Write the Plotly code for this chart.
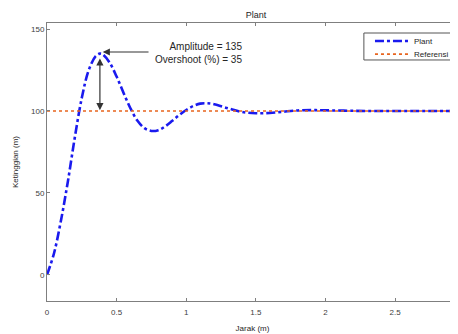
import plotly.graph_objects as go

# Data
jarak = [0, 0.05, 0.1, 0.15, 0.2, 0.25, 0.3, 0.35, 0.38, 0.4, 0.45, 0.5, 0.55, 0.6,
         0.65, 0.7, 0.75, 0.8, 0.85, 0.9, 0.95, 1.0, 1.05, 1.1, 1.15, 1.2, 1.3, 1.4,
         1.5, 1.6, 1.7, 1.8, 1.9, 2.0, 2.2, 2.4, 2.6, 2.8, 3.0]
plant = [0, 13, 33, 57, 84, 108, 125, 133.5, 135, 134.5, 129.5, 121, 111, 101.5,
         94, 89.5, 87.8, 88.3, 90.7, 94, 97.5, 100.6, 103, 104.5, 104.7, 104.1, 101.6, 99.4,
         98.6, 98.8, 99.6, 100.3, 100.5, 100.4, 100.1, 99.95, 100, 100, 100]
ref_x = [0, 3]
ref_y = [100, 100]
x_ticks = [0, 0.5, 1, 1.5, 2, 2.5]
x_ticktext = ["0", "0.5", "1", "1.5", "2", "2.5"]
y_ticks = [0, 50, 100, 150]
series_names = ["Plant", "Referensi"]
peak_t = 0.38
peak_v = 135
overshoot = 35

FONT = "Liberation Sans, Arial, sans-serif"
AX = "#7f7f7f"
PLANT_LINE = dict(color="#1a1aee", width=2.6, dash="dashdot")
REF_LINE = dict(color="#e8641e", width=1.6, dash="dot")

# the page body has an 8px margin; size the figure so the visible frame matches
W, H = 450, 326

fig = go.Figure()
fig.add_trace(go.Scatter(x=jarak, y=plant, mode="lines", name=series_names[0],
                         line=dict(**PLANT_LINE, shape="spline"), showlegend=False))
fig.add_trace(go.Scatter(x=ref_x, y=ref_y, mode="lines", name=series_names[1],
                         line=REF_LINE, showlegend=False))

# arrows
fig.add_annotation(x=peak_t + 0.02, y=136, ax=0.74, ay=136, xref="x", yref="y",
                   axref="x", ayref="y", showarrow=True, arrowhead=2, arrowsize=1.2,
                   arrowwidth=1.2, arrowcolor="#333333", text="")
fig.add_annotation(x=peak_t, y=100.5, ax=peak_t, ay=133, xref="x", yref="y",
                   axref="x", ayref="y", showarrow=True, arrowhead=2, arrowsize=1.2,
                   arrowwidth=1.2, arrowcolor="#333333", arrowside="end+start", text="")
fig.add_annotation(x=1.414, y=135.5, xref="x", yref="y", showarrow=False,
                   xanchor="right", yanchor="middle", align="right",
                   text=f"Amplitude = {peak_v}<br>Overshoot (%) = {overshoot}",
                   font=dict(family=FONT, size=10, color="#262626"))

# compact MATLAB-style legend box (paper coordinates)
LEG_X0, LEG_X1, LEG_Y0, LEG_Y1 = 0.771, 0.985, 0.867, 0.964
ROW_Y = [0.935, 0.888]
SAMPLE_X0, SAMPLE_X1, TEXT_X = 0.798, 0.881, 0.888
fig.add_shape(type="rect", xref="paper", yref="paper", x0=LEG_X0, x1=LEG_X1,
              y0=LEG_Y0, y1=LEG_Y1, line=dict(color="#555555", width=1),
              fillcolor="white", layer="above")
for name, style, ry in zip(series_names, [PLANT_LINE, REF_LINE], ROW_Y):
    fig.add_shape(type="line", xref="paper", yref="paper", x0=SAMPLE_X0, x1=SAMPLE_X1,
                  y0=ry, y1=ry, line=style, layer="above")
    fig.add_annotation(x=TEXT_X, y=ry, xref="paper", yref="paper", showarrow=False,
                       xanchor="left", yanchor="middle", text=name,
                       font=dict(family=FONT, size=8, color="#262626"))

fig.update_layout(
    width=W, height=H,
    margin=dict(l=39, r=0, t=15, b=33, autoexpand=False),
    paper_bgcolor="white", plot_bgcolor="white",
    title=dict(text="Plant", x=0.5085, xref="paper", xanchor="center",
               y=1 - 7 / H, yanchor="middle",
               font=dict(family=FONT, size=9, color="#262626")),
    showlegend=False,
    font=dict(family=FONT, size=8, color="#404040"),
)
fig.update_xaxes(range=[0, 2.952], tickvals=x_ticks, ticktext=x_ticktext, automargin=False,
                 ticks="inside", ticklen=3, tickcolor=AX, showline=True, linecolor=AX,
                 linewidth=1, mirror="ticks", showgrid=False, zeroline=False,
                 ticklabelstandoff=3,
                 title=dict(text="Jarak (m)", standoff=9, font=dict(size=8, color="#262626")),
                 tickfont=dict(size=8, color="#404040"))
fig.update_yaxes(range=[-16, 153.7], tickvals=y_ticks, ticks="inside", ticklen=3, automargin=False,
                 tickcolor=AX, showline=True, linecolor=AX, linewidth=1, mirror=False,
                 showgrid=False, zeroline=False,
                 title=dict(text="Ketinggian (m)", standoff=11, font=dict(size=8, color="#262626")),
                 tickfont=dict(size=8, color="#404040"))

fig.write_html("out.html")
